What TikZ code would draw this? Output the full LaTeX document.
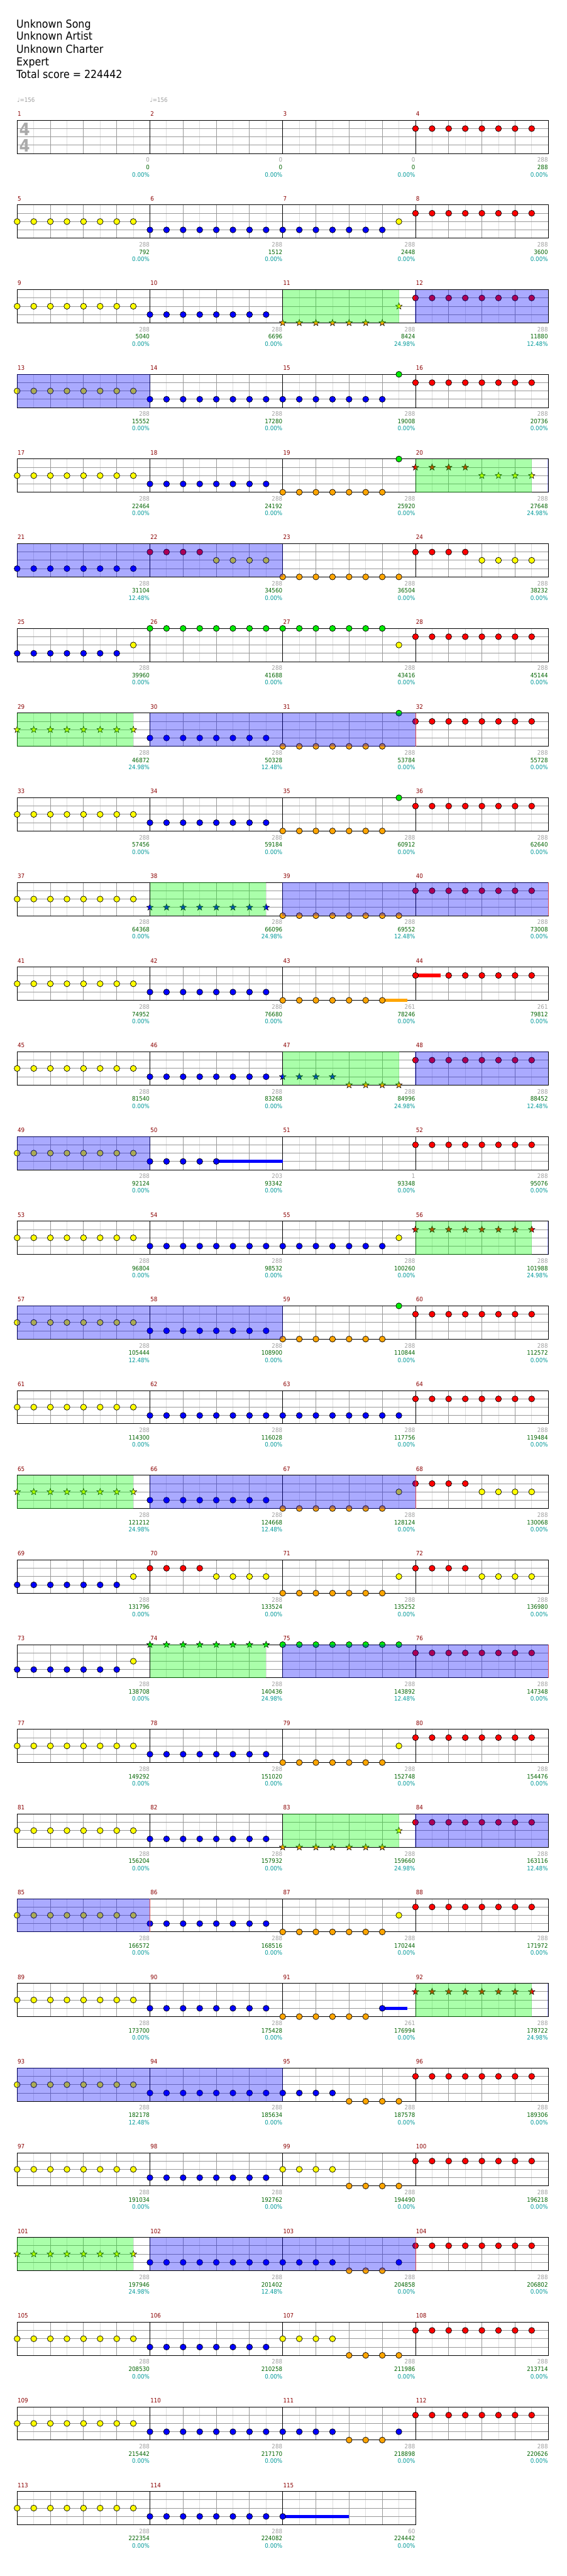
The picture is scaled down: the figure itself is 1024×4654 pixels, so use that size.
\documentclass[tikz,border=0pt]{standalone}
\usepackage{fontspec}
\setmainfont{DejaVu Sans}[FakeStretch=0.9]
\usetikzlibrary{shapes.geometric}
\definecolor{lane0}{RGB}{0,235,0}
\definecolor{lane1}{RGB}{255,0,0}
\definecolor{lane2}{RGB}{255,255,0}
\definecolor{lane3}{RGB}{0,0,255}
\definecolor{lane4}{RGB}{255,165,0}
\definecolor{mnum}{RGB}{139,0,0}
\definecolor{gnum}{RGB}{160,160,160}
\definecolor{snum}{RGB}{0,100,0}
\definecolor{pnum}{RGB}{0,153,153}
\definecolor{gridlight}{RGB}{221,221,221}
\definecolor{griddark}{RGB}{153,153,153}
\definecolor{sigcol}{RGB}{170,170,170}
\definecolor{spgreen}{RGB}{0,255,0}
\definecolor{spblue}{RGB}{0,0,255}
\definecolor{spendcol}{RGB}{220,70,70}
\tikzset{
 note/.style={circle,draw=black,line width=0.8pt,minimum size=10.8pt,inner sep=0pt},
 starnote/.style={star,star points=5,star point ratio=2.4,draw=black,line width=0.6pt,minimum size=12.5pt,inner sep=0pt},
 lightline/.style={draw=gridlight,line width=1pt},
 darkline/.style={draw=griddark,line width=1pt},
 barline/.style={draw=black,line width=1pt},
 mnumber/.style={anchor=base west,inner sep=0pt,text=mnum,font=\fontsize{11}{13}\selectfont},
 small/.style={anchor=base east,inner sep=0pt,font=\fontsize{11}{13}\selectfont},
 spphrase/.style={fill=spgreen,fill opacity=0.333},
 spact/.style={fill=spblue,fill opacity=0.333},
 spendline/.style={draw=spendcol,line width=0.8pt},
 titletext/.style={anchor=base west,inner sep=0pt,font=\fontsize{20}{24}\selectfont},
 sigfour/.style={inner sep=0pt,text=sigcol,font=\fontsize{31}{31}\selectfont\bfseries},
}
\newcommand\mxy[1]{%
  \pgfmathtruncatemacro\mrow{(#1-1)/4}%
  \pgfmathtruncatemacro\mcol{#1-1-4*\mrow}%
  \pgfmathsetmacro\mx{31+240*\mcol}%
  \pgfmathsetmacro\my{217.3+153*\mrow}%
}
\newcommand\nts[4]{\mxy{#1}\foreach \k in {#2,...,#3}{\node[note,fill=lane#4] (n#1-\k) at (\mx+30*\k,\my+15*#4) {};}}
\newcommand\strs[4]{\mxy{#1}\foreach \k in {#2,...,#3}{\node[starnote,fill=lane#4] (s#1-\k) at (\mx+30*\k,\my+15*#4) {};}}
\newcommand\sus[4]{\mxy{#1}\fill[lane#3] (\mx+30*#2,\my+15*#3-3) rectangle ++(#4,6);}
\newcommand\mscore[4]{\mxy{#1}%
 \node[small,text=gnum] (g#1) at (\mx+239.5,\my+75.7) {#2};%
 \node[small,text=snum] (t#1) at (\mx+239.5,\my+89) {#3};%
 \node[small,text=pnum] (p#1) at (\mx+239.5,\my+102) {#4\%};}
\newcommand\staff[2]{%
 \pgfmathsetmacro\rowtop{217.3+153*#1}%
 \pgfmathtruncatemacro\nlines{8*#2-1}%
 \pgfmathtruncatemacro\swid{240*#2}%
 \pgfmathtruncatemacro\nmb{#2-1}%
 \foreach \i in {1,3,...,\nlines}{\draw[lightline] (31+30*\i,\rowtop) -- ++(0,60);}
 \foreach \j in {15,30,45}{\draw[darkline] (31,\rowtop+\j) -- ++(\swid,0);}
 \foreach \i in {2,4,...,\nlines}{\draw[darkline] (31+30*\i,\rowtop) -- ++(0,60);}
 \foreach \i in {1,...,\nmb}{\draw[barline] (31+240*\i,\rowtop) -- ++(0,60);}
 \draw[barline] (31,\rowtop) rectangle ++(\swid,60);
}
\newcommand\spg[3]{\pgfmathsetmacro\rowtop{217.3+153*#1}\fill[spphrase] (#2,\rowtop) rectangle (#3,\rowtop+60);}
\newcommand\spb[3]{\pgfmathsetmacro\rowtop{217.3+153*#1}\fill[spact] (#2,\rowtop) rectangle (#3,\rowtop+60);}
\newcommand\spe[2]{\pgfmathsetmacro\rowtop{217.3+153*#1}\draw[spendline] (#2,\rowtop) -- ++(0,60);}
\begin{document}
\begin{tikzpicture}[x=1pt,y=-1pt]
\useasboundingbox[fill=white] (0,0) rectangle (1024,4654);
% title
\node[titletext] (title1) at (29.5,50) {Unknown Song};
\node[titletext] (title2) at (29.5,72.5) {Unknown Artist};
\node[titletext] (title3) at (29.5,95.5) {Unknown Charter};
\node[titletext] (title4) at (29.5,118.3) {Expert};
\node[titletext] (title5) at (29.5,141) {Total score = 224442};
\node[anchor=base west,inner sep=0pt,text=gnum,font=\fontsize{11}{13}\selectfont] (tempo1) at (31,184.5) {♩=156};
\node[anchor=base west,inner sep=0pt,text=gnum,font=\fontsize{11}{13}\selectfont] (tempo2) at (271,184.5) {♩=156};
% staffs
\foreach \r in {0,...,27}{\staff{\r}{4}}
\staff{28}{3}
\node[sigfour] (sig1) at (44.5,233.3) {4};
\node[sigfour] (sig2) at (44.5,263) {4};
% measure numbers
\foreach \m in {1,...,115}{\mxy{\m}\node[mnumber] (m\m) at (\mx+0.7,\my-7.5) {\m};}
% scores
\mscore{1}{0}{0}{0.00}\mscore{2}{0}{0}{0.00}\mscore{3}{0}{0}{0.00}\mscore{4}{288}{288}{0.00}
\mscore{5}{288}{792}{0.00}\mscore{6}{288}{1512}{0.00}\mscore{7}{288}{2448}{0.00}\mscore{8}{288}{3600}{0.00}
\mscore{9}{288}{5040}{0.00}\mscore{10}{288}{6696}{0.00}\mscore{11}{288}{8424}{24.98}\mscore{12}{288}{11880}{12.48}
\mscore{13}{288}{15552}{0.00}\mscore{14}{288}{17280}{0.00}\mscore{15}{288}{19008}{0.00}\mscore{16}{288}{20736}{0.00}
\mscore{17}{288}{22464}{0.00}\mscore{18}{288}{24192}{0.00}\mscore{19}{288}{25920}{0.00}\mscore{20}{288}{27648}{24.98}
\mscore{21}{288}{31104}{12.48}\mscore{22}{288}{34560}{0.00}\mscore{23}{288}{36504}{0.00}\mscore{24}{288}{38232}{0.00}
\mscore{25}{288}{39960}{0.00}\mscore{26}{288}{41688}{0.00}\mscore{27}{288}{43416}{0.00}\mscore{28}{288}{45144}{0.00}
\mscore{29}{288}{46872}{24.98}\mscore{30}{288}{50328}{12.48}\mscore{31}{288}{53784}{0.00}\mscore{32}{288}{55728}{0.00}
\mscore{33}{288}{57456}{0.00}\mscore{34}{288}{59184}{0.00}\mscore{35}{288}{60912}{0.00}\mscore{36}{288}{62640}{0.00}
\mscore{37}{288}{64368}{0.00}\mscore{38}{288}{66096}{24.98}\mscore{39}{288}{69552}{12.48}\mscore{40}{288}{73008}{0.00}
\mscore{41}{288}{74952}{0.00}\mscore{42}{288}{76680}{0.00}\mscore{43}{261}{78246}{0.00}\mscore{44}{261}{79812}{0.00}
\mscore{45}{288}{81540}{0.00}\mscore{46}{288}{83268}{0.00}\mscore{47}{288}{84996}{24.98}\mscore{48}{288}{88452}{12.48}
\mscore{49}{288}{92124}{0.00}\mscore{50}{203}{93342}{0.00}\mscore{51}{1}{93348}{0.00}\mscore{52}{288}{95076}{0.00}
\mscore{53}{288}{96804}{0.00}\mscore{54}{288}{98532}{0.00}\mscore{55}{288}{100260}{0.00}\mscore{56}{288}{101988}{24.98}
\mscore{57}{288}{105444}{12.48}\mscore{58}{288}{108900}{0.00}\mscore{59}{288}{110844}{0.00}\mscore{60}{288}{112572}{0.00}
\mscore{61}{288}{114300}{0.00}\mscore{62}{288}{116028}{0.00}\mscore{63}{288}{117756}{0.00}\mscore{64}{288}{119484}{0.00}
\mscore{65}{288}{121212}{24.98}\mscore{66}{288}{124668}{12.48}\mscore{67}{288}{128124}{0.00}\mscore{68}{288}{130068}{0.00}
\mscore{69}{288}{131796}{0.00}\mscore{70}{288}{133524}{0.00}\mscore{71}{288}{135252}{0.00}\mscore{72}{288}{136980}{0.00}
\mscore{73}{288}{138708}{0.00}\mscore{74}{288}{140436}{24.98}\mscore{75}{288}{143892}{12.48}\mscore{76}{288}{147348}{0.00}
\mscore{77}{288}{149292}{0.00}\mscore{78}{288}{151020}{0.00}\mscore{79}{288}{152748}{0.00}\mscore{80}{288}{154476}{0.00}
\mscore{81}{288}{156204}{0.00}\mscore{82}{288}{157932}{0.00}\mscore{83}{288}{159660}{24.98}\mscore{84}{288}{163116}{12.48}
\mscore{85}{288}{166572}{0.00}\mscore{86}{288}{168516}{0.00}\mscore{87}{288}{170244}{0.00}\mscore{88}{288}{171972}{0.00}
\mscore{89}{288}{173700}{0.00}\mscore{90}{288}{175428}{0.00}\mscore{91}{261}{176994}{0.00}\mscore{92}{288}{178722}{24.98}
\mscore{93}{288}{182178}{12.48}\mscore{94}{288}{185634}{0.00}\mscore{95}{288}{187578}{0.00}\mscore{96}{288}{189306}{0.00}
\mscore{97}{288}{191034}{0.00}\mscore{98}{288}{192762}{0.00}\mscore{99}{288}{194490}{0.00}\mscore{100}{288}{196218}{0.00}
\mscore{101}{288}{197946}{24.98}\mscore{102}{288}{201402}{12.48}\mscore{103}{288}{204858}{0.00}\mscore{104}{288}{206802}{0.00}
\mscore{105}{288}{208530}{0.00}\mscore{106}{288}{210258}{0.00}\mscore{107}{288}{211986}{0.00}\mscore{108}{288}{213714}{0.00}
\mscore{109}{288}{215442}{0.00}\mscore{110}{288}{217170}{0.00}\mscore{111}{288}{218898}{0.00}\mscore{112}{288}{220626}{0.00}
\mscore{113}{288}{222354}{0.00}\mscore{114}{288}{224082}{0.00}\mscore{115}{60}{224442}{0.00}
% sustains
\sus{43}{6}{4}{45}\sus{44}{0}{1}{45}\sus{50}{4}{3}{120}\sus{91}{6}{3}{45}\sus{115}{0}{3}{120}
% notes
\nts{4}{0}{7}{1}
\nts{5}{0}{7}{2}\nts{6}{0}{7}{3}\nts{7}{0}{6}{3}\nts{7}{7}{7}{2}\nts{8}{0}{7}{1}
\nts{9}{0}{7}{2}\nts{10}{0}{7}{3}\strs{11}{0}{6}{4}\strs{11}{7}{7}{2}\nts{12}{0}{7}{1}
\nts{13}{0}{7}{2}\nts{14}{0}{7}{3}\nts{15}{0}{6}{3}\nts{15}{7}{7}{0}\nts{16}{0}{7}{1}
\nts{17}{0}{7}{2}\nts{18}{0}{7}{3}\nts{19}{0}{6}{4}\nts{19}{7}{7}{0}\strs{20}{0}{3}{1}\strs{20}{4}{7}{2}
\nts{21}{0}{7}{3}\nts{22}{0}{3}{1}\nts{22}{4}{7}{2}\nts{23}{0}{7}{4}\nts{24}{0}{3}{1}\nts{24}{4}{7}{2}
\nts{25}{0}{6}{3}\nts{25}{7}{7}{2}\nts{26}{0}{7}{0}\nts{27}{0}{6}{0}\nts{27}{7}{7}{2}\nts{28}{0}{7}{1}
\strs{29}{0}{7}{2}\nts{30}{0}{7}{3}\nts{31}{0}{6}{4}\nts{31}{7}{7}{0}\nts{32}{0}{7}{1}
\nts{33}{0}{7}{2}\nts{34}{0}{7}{3}\nts{35}{0}{6}{4}\nts{35}{7}{7}{0}\nts{36}{0}{7}{1}
\nts{37}{0}{7}{2}\strs{38}{0}{7}{3}\nts{39}{0}{7}{4}\nts{40}{0}{7}{1}
\nts{41}{0}{7}{2}\nts{42}{0}{7}{3}\nts{43}{0}{6}{4}\nts{44}{0}{0}{1}\nts{44}{2}{7}{1}
\nts{45}{0}{7}{2}\nts{46}{0}{7}{3}\strs{47}{0}{3}{3}\strs{47}{4}{7}{4}\nts{48}{0}{7}{1}
\nts{49}{0}{7}{2}\nts{50}{0}{4}{3}\nts{52}{0}{7}{1}
\nts{53}{0}{7}{2}\nts{54}{0}{7}{3}\nts{55}{0}{6}{3}\nts{55}{7}{7}{2}\strs{56}{0}{7}{1}
\nts{57}{0}{7}{2}\nts{58}{0}{7}{3}\nts{59}{0}{6}{4}\nts{59}{7}{7}{0}\nts{60}{0}{7}{1}
\nts{61}{0}{7}{2}\nts{62}{0}{7}{3}\nts{63}{0}{7}{3}\nts{64}{0}{7}{1}
\strs{65}{0}{7}{2}\nts{66}{0}{7}{3}\nts{67}{0}{6}{4}\nts{67}{7}{7}{2}\nts{68}{0}{3}{1}\nts{68}{4}{7}{2}
\nts{69}{0}{6}{3}\nts{69}{7}{7}{2}\nts{70}{0}{3}{1}\nts{70}{4}{7}{2}\nts{71}{0}{6}{4}\nts{71}{7}{7}{2}\nts{72}{0}{3}{1}\nts{72}{4}{7}{2}
\nts{73}{0}{6}{3}\nts{73}{7}{7}{2}\strs{74}{0}{7}{0}\nts{75}{0}{7}{0}\nts{76}{0}{7}{1}
\nts{77}{0}{7}{2}\nts{78}{0}{7}{3}\nts{79}{0}{6}{4}\nts{79}{7}{7}{2}\nts{80}{0}{7}{1}
\nts{81}{0}{7}{2}\nts{82}{0}{7}{3}\strs{83}{0}{6}{4}\strs{83}{7}{7}{2}\nts{84}{0}{7}{1}
\nts{85}{0}{7}{2}\nts{86}{0}{7}{3}\nts{87}{0}{6}{4}\nts{87}{7}{7}{2}\nts{88}{0}{7}{1}
\nts{89}{0}{7}{2}\nts{90}{0}{7}{3}\nts{91}{0}{5}{4}\nts{91}{6}{6}{3}\strs{92}{0}{7}{1}
\nts{93}{0}{7}{2}\nts{94}{0}{7}{3}\nts{95}{0}{3}{3}\nts{95}{4}{7}{4}\nts{96}{0}{7}{1}
\nts{97}{0}{7}{2}\nts{98}{0}{7}{3}\nts{99}{0}{3}{2}\nts{99}{4}{7}{4}\nts{100}{0}{7}{1}
\strs{101}{0}{7}{2}\nts{102}{0}{7}{3}\nts{103}{0}{3}{3}\nts{103}{4}{6}{4}\nts{103}{7}{7}{3}\nts{104}{0}{7}{1}
\nts{105}{0}{7}{2}\nts{106}{0}{7}{3}\nts{107}{0}{3}{2}\nts{107}{4}{7}{4}\nts{108}{0}{7}{1}
\nts{109}{0}{7}{2}\nts{110}{0}{7}{3}\nts{111}{0}{3}{3}\nts{111}{4}{6}{4}\nts{111}{7}{7}{3}\nts{112}{0}{7}{1}
\nts{113}{0}{7}{2}\nts{114}{0}{7}{3}\nts{115}{0}{0}{3}
% star power phrases
\spg{2}{511}{721}\spg{4}{751}{961}\spg{7}{31}{241}\spg{9}{271}{481}\spg{11}{511}{721}\spg{13}{751}{961}
\spg{16}{31}{241}\spg{18}{271}{481}\spg{20}{511}{721}\spg{22}{751}{961}\spg{25}{31}{241}
% activations
\spb{2}{750}{991}\spb{3}{31}{271}
\spb{4}{990}{991}\spb{5}{31}{511}
\spb{7}{270}{751}
\spb{9}{510}{991}
\spb{11}{750}{991}\spb{12}{31}{271}
\spb{13}{990}{991}\spb{14}{31}{511}
\spb{16}{270}{751}
\spb{18}{510}{991}
\spb{20}{750}{991}\spb{21}{31}{271}
\spb{22}{990}{991}\spb{23}{31}{511}
\spb{25}{270}{751}
\spe{7}{751}\spe{9}{991}\spe{16}{751}\spe{18}{991}\spe{21}{271}\spe{25}{751}
\end{tikzpicture}
\end{document}
